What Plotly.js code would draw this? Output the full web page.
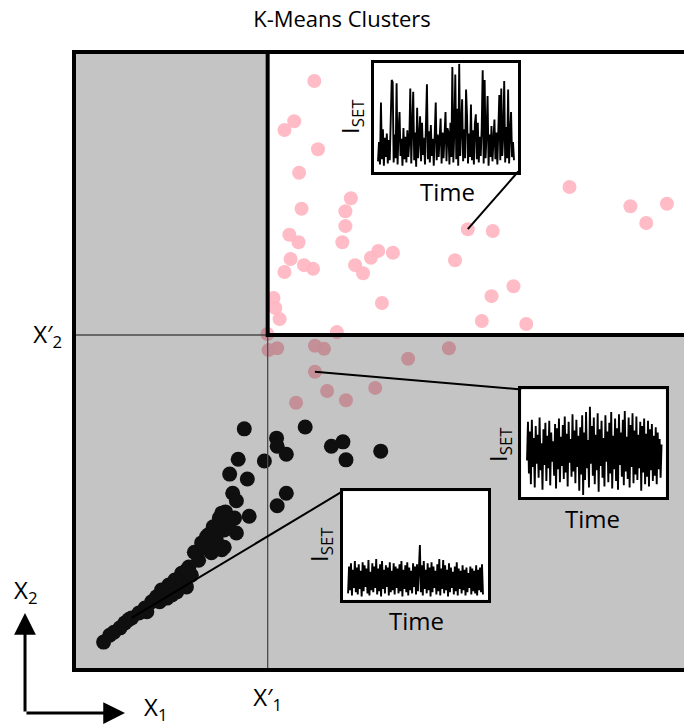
<!DOCTYPE html>
<html><head><meta charset="utf-8">
<script src="https://cdn.plot.ly/plotly-3.0.1.min.js"></script>
<style>html,body{margin:0;padding:0;background:#fff}#chart{width:684px;height:726px}</style>
</head><body><div id="chart"></div>
<script>
// ---- cluster data (arbitrary units, 0-100) ----
const pinkX=[39.3,36.0,34.4,39.9,36.8,45.3,37.2,44.4,44.4,35.2,36.7,43.9,35.4,37.6,39.1,34.4,46.0,47.3,48.6,49.8,52.2,50.4,32.6,32.9,33.6,43.0,64.5,68.6,62.4,81.2,91.2,97.2,93.8,72.0,68.4,66.8,74.1,31.6,31.8,33.2,39.4,40.9,61.4,54.7,39.4,41.4,49.3,36.3,44.5];
const pinkY=[95.0,88.5,87.1,84.0,80.2,76.1,74.4,74.0,71.6,70.2,69.0,69.0,66.3,65.3,64.7,64.2,65.3,64.0,66.5,67.6,67.3,59.2,60.0,58.4,56.6,54.5,71.1,70.8,66.1,77.9,74.8,75.2,72.1,61.9,60.3,56.3,55.8,54.2,51.6,51.9,52.3,51.8,51.9,50.2,48.1,45.0,45.5,43.1,43.5];
const blackX=[27.8,37.8,33.1,33.2,34.7,31.1,42.1,44.0,44.5,50.2,26.8,25.4,28.3,25.9,26.5,34.7,33.2,28.6,24.7,23.7,26.2,26.5,22.7,21.9,24.5,20.8,19.6,22.4,20.3,18.7,17.5,18.0,16.4,15.4,14.2,16.7,13.4,12.6,13.9,11.5,10.5,9.3,8.2,7.4,5.7,4.7,24.1,24.5,21.6,24.1,18.3,18.3,25.4,23.2,21.3,19.1,15.9,15.1,11.8,6.4,8.8];
const blackY=[38.9,39.2,37.4,36.1,34.8,33.7,36.1,36.8,33.9,35.3,34.0,31.6,30.8,28.5,27.3,28.5,26.5,24.8,25.5,24.5,24.5,22.1,23.1,21.8,19.8,20.5,19.0,18.9,17.7,16.6,15.6,13.7,14.5,13.7,12.9,12.6,11.8,11.0,11.0,10.0,9.2,8.4,7.6,6.8,5.6,4.5,25.3,22.6,21.5,19.4,16.1,13.4,23.9,21.0,19.7,15.3,12.1,11.6,9.4,6.1,8.1];
const threshX1=31.64, threshX2=54.03;
const tickLabelsX=["X′<sub>1</sub>"], tickLabelsY=["X′<sub>2</sub>"];
// indices of the points linked to the insets
const linkPink1=26, linkPink2=44, linkBlack=41;

// ---- inset signals (I_SET vs time) ----
const signalPink=[0.08,0.26,0.05,0.63,0.10,0.38,0.04,0.30,0.12,0.34,0.06,0.28,0.09,0.41,0.84,0.82,0.07,0.33,0.11,0.81,0.05,0.36,0.54,0.13,0.29,0.04,0.39,0.10,0.31,0.07,0.37,0.12,0.27,0.76,0.06,0.40,0.73,0.09,0.35,0.03,0.58,0.11,0.32,0.50,0.08,0.44,0.14,0.30,0.05,0.38,0.80,0.10,0.36,0.07,0.42,0.13,0.29,0.04,0.37,0.63,0.09,0.33,0.12,0.40,0.48,0.06,0.35,0.11,0.28,0.54,0.08,0.39,0.35,0.05,0.44,0.12,0.96,0.07,0.36,0.89,0.10,0.57,0.04,0.99,0.13,0.41,0.66,0.08,0.38,0.11,0.75,0.50,0.06,0.34,0.12,0.61,0.09,0.37,0.05,0.43,0.52,0.10,0.44,0.07,0.31,0.13,0.39,0.93,0.06,0.84,0.11,0.36,0.69,0.04,0.33,0.12,0.41,0.08,0.30,0.47,0.10,0.35,0.05,0.38,0.70,0.09,0.76,0.13,0.32,0.83,0.07,0.40,0.11,0.75,0.06,0.34,0.54,0.12,0.26,0.09];
const signalMid=[0.34,0.70,0.22,0.61,0.12,0.72,0.28,0.55,0.09,0.66,0.31,0.58,0.18,0.74,0.25,0.50,0.07,0.63,0.30,0.69,0.15,0.57,0.27,0.71,0.11,0.60,0.33,0.52,0.20,0.68,0.08,0.64,0.26,0.73,0.14,0.56,0.29,0.67,0.17,0.75,0.23,0.59,0.10,0.70,0.32,0.54,0.19,0.77,0.24,0.62,0.13,0.72,0.28,0.57,0.06,0.65,0.21,0.76,0.02,0.60,0.16,0.79,0.27,0.53,0.09,0.84,0.31,0.66,0.20,0.74,0.12,0.58,0.25,0.78,0.05,0.63,0.29,0.71,0.18,0.55,0.10,0.76,0.33,0.61,0.14,0.69,0.22,0.79,0.08,0.57,0.26,0.73,0.15,0.64,0.07,0.77,0.30,0.60,0.19,0.72,0.11,0.80,0.24,0.56,0.17,0.74,0.09,0.67,0.28,0.78,0.13,0.62,0.21,0.75,0.16,0.58,0.27,0.70,0.06,0.66,0.23,0.73,0.12,0.59,0.19,0.71,0.10,0.63,0.25,0.68,0.15,0.57,0.20,0.65,0.12,0.60,0.26,0.54,0.18,0.49];
const signalBlack=[0.05,0.30,0.08,0.33,0.03,0.27,0.10,0.35,0.06,0.29,0.04,0.32,0.09,0.26,0.02,0.34,0.07,0.31,0.11,0.28,0.05,0.36,0.03,0.25,0.08,0.33,0.06,0.30,0.10,0.37,0.04,0.28,0.07,0.32,0.02,0.35,0.09,0.27,0.05,0.31,0.11,0.29,0.03,0.34,0.06,0.26,0.08,0.33,0.04,0.30,0.10,0.28,0.05,0.32,0.07,0.35,0.02,0.27,0.09,0.31,0.06,0.34,0.03,0.29,0.08,0.26,0.05,0.33,0.11,0.30,0.04,0.32,0.07,0.28,0.50,0.06,0.31,0.03,0.35,0.09,0.27,0.05,0.33,0.08,0.29,0.02,0.34,0.06,0.30,0.10,0.26,0.04,0.32,0.07,0.37,0.03,0.28,0.09,0.36,0.05,0.31,0.08,0.27,0.02,0.33,0.06,0.29,0.10,0.25,0.04,0.30,0.07,0.34,0.03,0.28,0.09,0.26,0.05,0.31,0.08,0.27,0.03,0.29,0.06,0.24,0.10,0.30,0.04,0.28,0.07,0.26,0.05,0.31,0.03,0.27,0.08,0.29,0.06,0.32,0.04];

const FONT="Open Sans, Noto Sans, sans-serif";
const XR=[-0.16,100], YR=[0,99.68];
const idx=a=>a.map((_,i)=>i);

const dom1={x:[0.491,0.7282],y:[0.8066,0.9825]};
const dom2={x:[0.7331,0.9702],y:[0.2796,0.4539]};
const dom3={x:[0.4407,0.6795],y:[0.1136,0.2893]};
const px2x=p=>XR[0]+p*(XR[1]-XR[0]);
const py2y=p=>YR[0]+p*(YR[1]-YR[0]);
const SIG_W=1.9;

const traces=[
 {type:'scatter',mode:'markers',x:pinkX,y:pinkY,xaxis:'x',yaxis:'y',
  marker:{size:14,color:'#FFB6C1',opacity:0.92,line:{width:0}},hoverinfo:'skip'},
 {type:'scatter',mode:'markers',x:blackX,y:blackY,xaxis:'x',yaxis:'y',
  marker:{size:15,color:'#141414',line:{width:0}},hoverinfo:'skip'},
 // semi-transparent grey shading outside the (X1>X1', X2>X2') quadrant
 {type:'scatter',mode:'lines',xaxis:'x',yaxis:'y',
  x:[-5,105,105,threshX1,threshX1,-5,-5],y:[-5,-5,threshX2,threshX2,105,105,-5],
  fill:'toself',fillcolor:'rgba(0,0,0,0.23)',line:{width:0,color:'rgba(0,0,0,0)'},hoverinfo:'skip'},
 {type:'scatter',mode:'lines',x:idx(signalPink),y:signalPink,xaxis:'x3',yaxis:'y3',line:{color:'#000',width:SIG_W},hoverinfo:'skip'},
 {type:'scatter',mode:'lines',x:idx(signalMid),y:signalMid,xaxis:'x4',yaxis:'y4',line:{color:'#000',width:SIG_W},hoverinfo:'skip'},
 {type:'scatter',mode:'lines',x:idx(signalBlack),y:signalBlack,xaxis:'x5',yaxis:'y5',line:{color:'#000',width:SIG_W},hoverinfo:'skip'}
];

const insetAxis=(domain,range)=>({domain:domain,range:range,showgrid:false,zeroline:false,showticklabels:false,ticks:'',
  showline:true,mirror:true,linewidth:3,linecolor:'#000',fixedrange:true});

const annFont={family:FONT,size:24,color:'#000'};
const annotations=[
 {text:'Time',xref:'paper',yref:'paper',x:0.6115,y:0.7735,showarrow:false,font:annFont,xanchor:'center',yanchor:'middle'},
 {text:'Time',xref:'paper',yref:'paper',x:0.8492,y:0.2445,showarrow:false,font:annFont,xanchor:'center',yanchor:'middle'},
 {text:'Time',xref:'paper',yref:'paper',x:0.5615,y:0.0795,showarrow:false,font:annFont,xanchor:'center',yanchor:'middle'},
 {text:'I<sub>SET</sub>',textangle:-90,xref:'paper',yref:'paper',x:0.4541,y:0.8948,showarrow:false,font:annFont,xanchor:'center',yanchor:'middle'},
 {text:'I<sub>SET</sub>',textangle:-90,xref:'paper',yref:'paper',x:0.6967,y:0.3657,showarrow:false,font:annFont,xanchor:'center',yanchor:'middle'},
 {text:'I<sub>SET</sub>',textangle:-90,xref:'paper',yref:'paper',x:0.4033,y:0.2023,showarrow:false,font:annFont,xanchor:'center',yanchor:'middle'},
 {text:'X<sub>2</sub>',xref:'paper',yref:'paper',x:-0.0795,y:0.1278,showarrow:false,font:annFont,xanchor:'center',yanchor:'middle'},
 {text:'X<sub>1</sub>',xref:'paper',yref:'paper',x:0.1344,y:-0.061,showarrow:false,font:annFont,xanchor:'center',yanchor:'middle'},
 {text:'',xref:'paper',yref:'paper',x:-0.0803,y:0.0922,ax:0,ay:100,showarrow:true,arrowhead:2,arrowsize:1.45,arrowwidth:3,arrowcolor:'#000',standoff:0},
 {text:'',xref:'paper',yref:'paper',x:0.0836,y:-0.0696,ax:-100,ay:0,showarrow:true,arrowhead:2,arrowsize:1.45,arrowwidth:3,arrowcolor:'#000',standoff:0}
];

const shapes=[
 {type:'line',xref:'x',yref:'y',x0:threshX1,x1:threshX1,y0:YR[0],y1:YR[1],line:{color:'#4a4a4a',width:1.3},layer:'above'},
 {type:'line',xref:'x',yref:'y',x0:XR[0],x1:XR[1],y0:threshX2,y1:threshX2,line:{color:'#4a4a4a',width:1.3},layer:'above'},
 {type:'rect',xref:'x',yref:'y',x0:threshX1,x1:110,y0:threshX2,y1:YR[1],line:{color:'#000',width:4},fillcolor:'rgba(0,0,0,0)',layer:'above'},
 {type:'rect',xref:'paper',yref:'paper',x0:0,x1:1.02,y0:0,y1:1,line:{color:'#000',width:4},fillcolor:'rgba(0,0,0,0)',layer:'above'},
 {type:'line',xref:'x',yref:'y',x0:pinkX[linkPink1],y0:pinkY[linkPink1],x1:px2x(dom1.x[1]),y1:py2y(dom1.y[0]),line:{color:'#000',width:2},layer:'above'},
 {type:'line',xref:'x',yref:'y',x0:pinkX[linkPink2],y0:pinkY[linkPink2],x1:px2x(dom2.x[0]),y1:py2y(dom2.y[1]),line:{color:'#000',width:2},layer:'above'},
 {type:'line',xref:'x',yref:'y',x0:blackX[linkBlack],y0:blackY[linkBlack],x1:px2x(dom3.x[0]),y1:py2y(dom3.y[1]),line:{color:'#000',width:2},layer:'above'}
];

const layout={
 width:684,height:726,
 margin:{l:74,r:0,t:52,b:56,pad:0},
 paper_bgcolor:'#fff',plot_bgcolor:'#fff',
 showlegend:false,hovermode:false,
 font:{family:FONT,color:'#000'},
 title:{text:'K-Means Clusters',font:{family:FONT,size:22,color:'#000'},xref:'container',x:0.5,xanchor:'center',yref:'container',y:0.974,yanchor:'middle'},
 xaxis:{domain:[0,1],range:XR,showgrid:false,zeroline:false,showline:false,fixedrange:true,
   tickmode:'array',tickvals:[threshX1],ticktext:tickLabelsX,ticks:'outside',ticklen:6,tickcolor:'rgba(0,0,0,0)',
   tickfont:{family:FONT,size:24,color:'#000'}},
 yaxis:{domain:[0,1],range:YR,showgrid:false,zeroline:false,showline:false,fixedrange:true,
   tickmode:'array',tickvals:[threshX2],ticktext:tickLabelsY,ticks:'outside',ticklen:6,tickcolor:'rgba(0,0,0,0)',
   tickfont:{family:FONT,size:24,color:'#000'}},
 xaxis3:Object.assign(insetAxis(dom1.x,[-4.6,143.3]),{anchor:'y3'}),
 yaxis3:Object.assign(insetAxis(dom1.y,[-0.015,1.0]),{anchor:'x3'}),
 xaxis4:Object.assign(insetAxis(dom2.x,[-6.0,143.4]),{anchor:'y4'}),
 yaxis4:Object.assign(insetAxis(dom2.y,[0,1.0]),{anchor:'x4'}),
 xaxis5:Object.assign(insetAxis(dom3.x,[-5.4,144.7]),{anchor:'y5'}),
 yaxis5:Object.assign(insetAxis(dom3.y,[-0.01,1.0]),{anchor:'x5'}),
 annotations:annotations,shapes:shapes
};
Plotly.newPlot('chart',traces,layout,{staticPlot:true,displayModeBar:false});
</script></body></html>
